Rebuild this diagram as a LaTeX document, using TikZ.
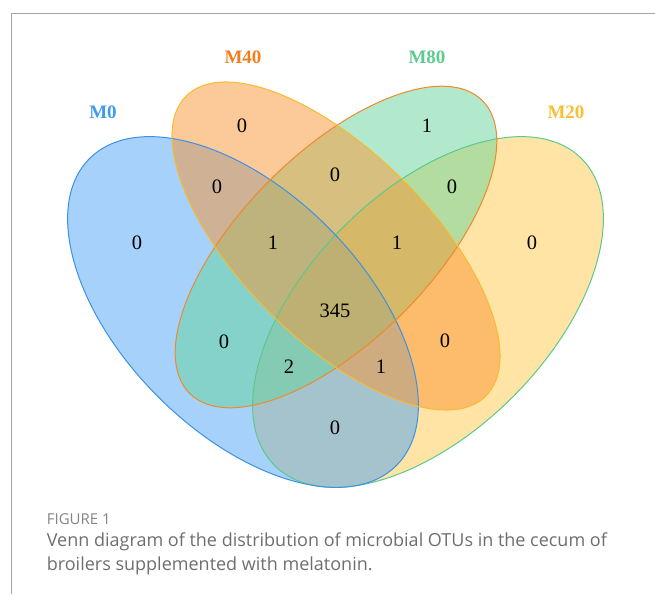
\documentclass[tikz,border=0pt]{standalone}
\usepackage{fontspec}
\setmainfont{Liberation Serif}
\newfontfamily\capfont{Open Sans}
\usepackage{tikz}

\definecolor{fillA}{HTML}{4DA3F5}
\definecolor{fillB}{HTML}{F99532}
\definecolor{fillC}{HTML}{66D49C}
\definecolor{fillD}{HTML}{FFC94D}
\definecolor{lineA}{HTML}{3A92E6}
\definecolor{lineB}{HTML}{F8BB30}
\definecolor{lineC}{HTML}{EE8A2A}
\definecolor{lineD}{HTML}{5CC98A}
\definecolor{textA}{HTML}{3C9BF0}
\definecolor{textB}{HTML}{F27E1E}
\definecolor{textC}{HTML}{5DCB8C}
\definecolor{textD}{HTML}{F8C030}
\definecolor{capgray}{HTML}{6D6E71}

\begin{document}
\begin{tikzpicture}[x=1pt, y=-1pt, line width=1pt,
	setname/.style={font=\fontsize{19}{19}\selectfont\bfseries},
	count/.style={font=\fontsize{20.5}{20.5}\selectfont},
	venn/.style={fill opacity=0.5}]
		\useasboundingbox (0,0) rectangle (655,594);
		\draw[gray!70] (11,594) -- (11,14) -- (655,14);
		
		\coordinate (cM0) at (243,312);
		\coordinate (cM40) at (336,246);
		\coordinate (cM80) at (336,247);
		\coordinate (cM20) at (428,312);
		
		% fills, in the order that gives the blends
		\fill[fillD, venn, rotate around={45:(cM20)}] (cM20) ellipse [x radius=217pt, y radius=120pt];
		\fill[fillA, venn, rotate around={-45:(cM0)}] (cM0) ellipse [x radius=217pt, y radius=120pt];
		\fill[fillC, venn, rotate around={45:(cM80)}] (cM80) ellipse [x radius=207pt, y radius=94pt];
		\fill[fillB, venn, rotate around={-45:(cM40)}] (cM40) ellipse [x radius=212pt, y radius=94pt];
		
		\draw[lineD, rotate around={45:(cM20)}] (cM20) ellipse [x radius=217pt, y radius=120pt];
		\draw[lineA, rotate around={-45:(cM0)}] (cM0) ellipse [x radius=217pt, y radius=120pt];
		\draw[lineC, rotate around={45:(cM80)}] (cM80) ellipse [x radius=207pt, y radius=94pt];
		\draw[lineB, rotate around={-45:(cM40)}] (cM40) ellipse [x radius=212pt, y radius=94pt];
		
		\node[setname, text=textA] (M0) at (103,112) {M0};
		\node[setname, text=textB] (M40) at (243,57) {M40};
		\node[setname, text=textC] (M80) at (427,57) {M80};
		\node[setname, text=textD] (M20) at (566,112) {M20};
		
		\node[count] (a) at (137,243) {0};
		\node[count] (b) at (242,126) {0};
		\node[count] (c) at (427,126) {1};
		\node[count] (d) at (532,243) {0};
		\node[count] (ab) at (217,187) {0};
		\node[count] (bc) at (335,175) {0};
		\node[count] (cd) at (452,187) {0};
		\node[count] (abc) at (273,243) {1};
		\node[count] (bcd) at (397,243) {1};
		\node[count] (abcd) at (335,311) {345};
		\node[count] (ac) at (224,342) {0};
		\node[count] (bd) at (445,341) {0};
		\node[count] (acd) at (289,367) {2};
		\node[count] (abd) at (381,367) {1};
		\node[count] (ad) at (335,428) {0};
		
		\node[anchor=west, text=capgray!85, font=\capfont\fontsize{15}{15}\selectfont] (fig) at (43,519) {FIGURE 1};
		\node[anchor=west, align=left, text=capgray, font=\capfont\fontsize{18}{24}\selectfont] (cap) at (43,554)
			{Venn diagram of the distribution of microbial OTUs in the cecum of\\broilers supplemented with melatonin.};
		
	\end{tikzpicture}
\end{document}
